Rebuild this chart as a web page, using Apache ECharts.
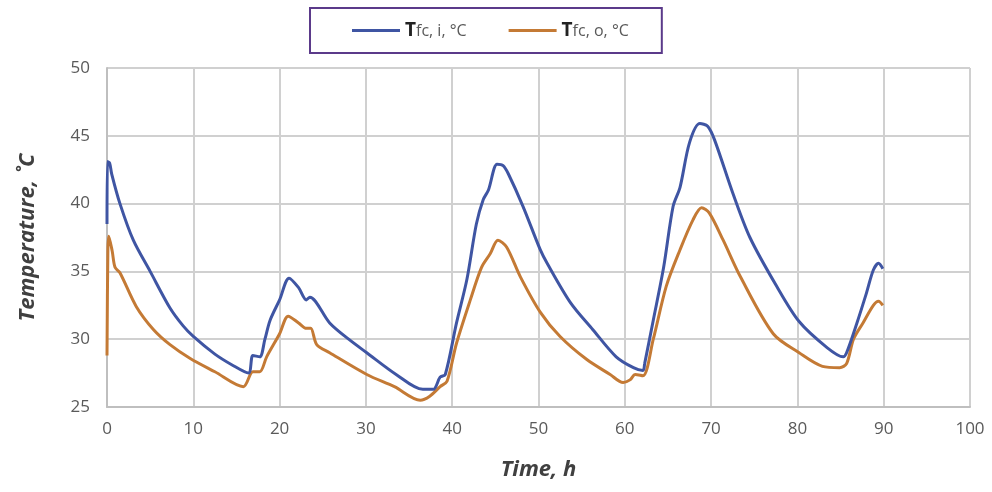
<!DOCTYPE html>
<html>
<head>
<meta charset="utf-8">
<script src="https://cdn.jsdelivr.net/npm/echarts@6/dist/echarts.min.js"></script>
<style>
  html, body { margin: 0; padding: 0; background: #ffffff; }
  #chart { width: 992px; height: 492px; }
</style>
</head>
<body>
<div id="chart"></div>
<script>
// Fuel-cell inlet temperature (h, °C)
const timeIn = [0, 0.05, 0.3, 0.54, 1.5, 3.05, 5, 7.3, 8.8, 10, 12.5, 14.5, 16.4, 16.9, 17.7, 18.3, 18.9, 20, 21.1, 22.2, 23.1, 23.5, 25.8, 28, 30.1, 33.5, 36.6, 37.8, 38.6, 39.2, 40.5, 41.7, 42.8, 43.6, 44.2, 45.2, 45.9, 46.5, 48.2, 50.2, 51, 53.7, 56.3, 59, 61, 62.1, 62.3, 63.3, 64.5, 65.6, 66.4, 67.5, 68.7, 69.6, 70.4, 72.5, 74.5, 77.6, 80.2, 83.4, 85.3, 85.7, 86.9, 88, 88.8, 89.4, 89.9];
const tempIn = [38.5, 43.1, 43.0, 42.2, 40.0, 37.3, 35.0, 32.3, 31.0, 30.2, 28.9, 28.1, 27.5, 28.8, 28.7, 30.0, 31.4, 32.9, 34.5, 33.8, 32.9, 33.1, 31.2, 30.0, 29.0, 27.4, 26.3, 26.3, 27.2, 27.4, 31.2, 34.4, 38.5, 40.3, 41.0, 42.9, 42.8, 42.2, 39.8, 36.6, 35.6, 32.7, 30.7, 28.7, 27.9, 27.7, 28.2, 31.4, 35.3, 39.8, 41.2, 44.5, 45.9, 45.7, 44.7, 40.8, 37.5, 33.9, 31.3, 29.4, 28.7, 29.0, 31.2, 33.4, 35.1, 35.6, 35.2];

// Fuel-cell outlet temperature (h, °C)
const timeOut = [0, 0.1, 0.2, 0.6, 0.93, 1.5, 3.4, 5.4, 7.3, 9.6, 12.5, 15.8, 16.9, 17.7, 18.5, 20, 21, 22.2, 23.1, 23.6, 24.3, 25.8, 30.1, 33.3, 36.3, 37.4, 38.6, 39.4, 40.5, 42.1, 43.4, 44.4, 45.3, 46.3, 47.9, 50.2, 52.5, 55.6, 58.3, 59.8, 60.6, 61.2, 62.1, 63.3, 64.8, 66.4, 67.9, 68.9, 69.8, 71.4, 73.4, 77.2, 80.2, 82.9, 84.9, 85.7, 86.5, 87.6, 88.8, 89.4, 89.9];
const tempOut = [28.8, 36.5, 37.6, 36.5, 35.3, 34.9, 32.4, 30.7, 29.6, 28.6, 27.6, 26.5, 27.6, 27.6, 28.7, 30.4, 31.7, 31.2, 30.8, 30.8, 29.6, 29.0, 27.4, 26.5, 25.5, 25.8, 26.5, 26.9, 29.7, 32.9, 35.3, 36.3, 37.3, 36.8, 34.6, 32.0, 30.2, 28.5, 27.4, 26.8, 27.0, 27.4, 27.3, 30.0, 33.9, 36.6, 38.8, 39.7, 39.3, 37.3, 34.6, 30.4, 29.0, 28.0, 27.9, 28.2, 30.0, 31.2, 32.5, 32.8, 32.5];

const xTicks = { min: 0, max: 100, step: 10 };
const yTicks = { min: 25, max: 50, step: 5 };

const toPairs = (xs, ys) => xs.map((x, i) => [x, ys[i]]);

const chart = echarts.init(document.getElementById('chart'), null, { renderer: 'canvas' });

const gridColor = '#d0d0d0';
const labelColor = '#5a5a5a';

chart.setOption({
  backgroundColor: '#ffffff',
  animation: false,
  grid: { left: 107, right: 22, top: 68, bottom: 85 },
  legend: {
    left: 310,
    top: 8,
    padding: [13, 33, 13, 42],
    itemGap: 42,
    itemWidth: 48,
    itemHeight: 3,
    borderColor: '#5b3a8a',
    borderWidth: 2,
    icon: 'rect',
    data: ['in', 'out'],
    formatter: name => name === 'in' ? '{b|T}{n|fc, i, °C}' : '{b|T}{n|fc, o, °C}',
    textStyle: {
      rich: {
        b: { fontFamily: 'Open Sans', fontWeight: 'bold', fontSize: 19, color: '#222222' },
        n: { fontFamily: 'Open Sans', fontSize: 16, color: '#595959', padding: [2, 0, 0, 0] }
      }
    }
  },
  xAxis: {
    type: 'value',
    min: xTicks.min,
    max: xTicks.max,
    interval: xTicks.step,
    name: 'Time, h',
    nameLocation: 'middle',
    nameGap: 52,
    nameTextStyle: { fontFamily: 'Open Sans', fontSize: 22, fontWeight: 'bold', fontStyle: 'italic', color: '#404040' },
    axisLine: { show: true, lineStyle: { color: '#bfbfbf', width: 2 } },
    axisTick: { show: false },
    splitLine: { show: true, lineStyle: { color: gridColor, width: 2 } },
    axisLabel: { fontFamily: 'Open Sans', fontSize: 17, color: labelColor, margin: 14 }
  },
  yAxis: {
    type: 'value',
    min: yTicks.min,
    max: yTicks.max,
    interval: yTicks.step,
    name: 'Temperature, ˚C',
    nameLocation: 'middle',
    nameGap: 68,
    nameTextStyle: { fontFamily: 'Open Sans', fontSize: 22, fontWeight: 'bold', fontStyle: 'italic', color: '#404040' },
    axisLine: { show: true, lineStyle: { color: '#bfbfbf', width: 2 } },
    axisTick: { show: false },
    splitLine: { show: true, lineStyle: { color: gridColor, width: 2 } },
    axisLabel: { fontFamily: 'Open Sans', fontSize: 17, color: labelColor, margin: 17 }
  },
  series: [
    {
      name: 'in',
      type: 'line',
      data: toPairs(timeIn, tempIn),
      showSymbol: false,
      smooth: 0.3,
      lineStyle: { color: '#3f55a3', width: 3 },
      itemStyle: { color: '#3f55a3' },
      z: 3
    },
    {
      name: 'out',
      type: 'line',
      data: toPairs(timeOut, tempOut),
      showSymbol: false,
      smooth: 0.3,
      lineStyle: { color: '#c47a35', width: 3 },
      itemStyle: { color: '#c47a35' },
      z: 2
    }
  ]
});
</script>
</body>
</html>
